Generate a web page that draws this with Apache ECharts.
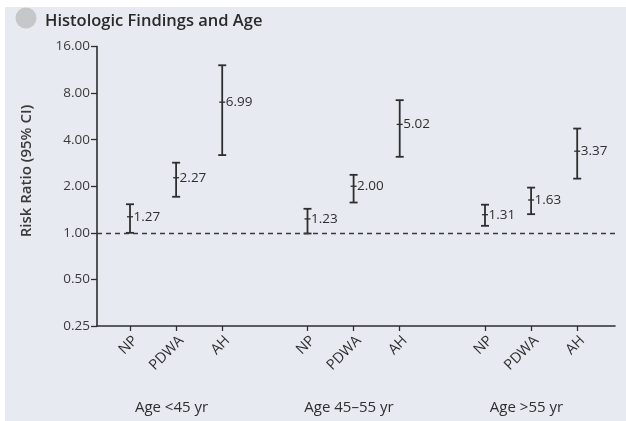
<!DOCTYPE html>
<html><head><meta charset="utf-8">
<script src="https://cdn.jsdelivr.net/npm/echarts@6/dist/echarts.min.js"></script>
<style>html,body{margin:0;padding:0;background:#fff}#c{width:626px;height:421px}</style>
</head><body><div id="c"></div>
<script>
const categories = ['NP', 'PDWA', 'AH'];
const groups = ['Age <45 yr', 'Age 45\u201355 yr', 'Age >55 yr'];
const estimates = [1.27, 2.27, 6.99, 1.23, 2.00, 5.02, 1.31, 1.63, 3.37];
const lower = [1.00, 1.71, 3.18, 0.99, 1.57, 3.10, 1.11, 1.32, 2.24];
const upper = [1.53, 2.84, 12.1, 1.43, 2.37, 7.20, 1.52, 1.96, 4.72];
const yTicks = [0.25, 0.5, 1, 2, 4, 8, 16];
const estLabels = ['1.27', '2.27', '6.99', '1.23', '2.00', '5.02', '1.31', '1.63', '3.37'];

const GAP = 3.85; // spacing between group starts on the x scale
const xPos = [], tickLabelMap = {};
groups.forEach((g, gi) => categories.forEach((c, ci) => {
  const p = +(gi * GAP + ci).toFixed(3);
  xPos.push(p); tickLabelMap[p] = c;
}));
const groupPos = groups.map((g, gi) => +(gi * GAP + 0.9).toFixed(3));
const groupLabelMap = {}; groupPos.forEach((p, i) => groupLabelMap[p] = groups[i]);

const data = estimates.map((e, i) => [xPos[i], e, lower[i], upper[i], i]);
const ink = '#2e2e2e';
const font = '"Open Sans", "Noto Sans", sans-serif';

const chart = echarts.init(document.getElementById('c'), null, {renderer: 'canvas'});
chart.setOption({
  backgroundColor: '#fff',
  animation: false,
  graphic: [
    {type: 'rect', z: -100, shape: {x: 5, y: 7, width: 621, height: 414}, style: {fill: '#e7eaf1'}},
    {type: 'circle', z: -90, shape: {cx: 26, cy: 18, r: 10.5}, style: {fill: '#c6c7c9'}},
    {type: 'text', left: 45, top: 13, style: {text: 'Histologic Findings and Age', font: '600 16.5px ' + font, fill: '#2a2a2a'}},
    {type: 'text', x: 27, y: 171, rotation: Math.PI / 2,
      style: {text: 'Risk Ratio (95% CI)', font: '600 15px ' + font, fill: '#3a3a3a', align: 'center', verticalAlign: 'middle'}}
  ],
  grid: {left: 97, right: 11, top: 46.5, bottom: 95, containLabel: false},
  xAxis: [{
    type: 'value', min: -0.716, max: 10.52,
    splitLine: {show: false},
    axisLine: {show: true, onZero: false, lineStyle: {color: ink, width: 1.6}},
    axisTick: {show: true, length: 5, customValues: xPos, lineStyle: {color: ink, width: 1.3}},
    axisLabel: {customValues: xPos, rotate: 45, margin: 7, color: ink, fontSize: 14.5, fontFamily: font,
      verticalAlign: 'top',
      formatter: v => tickLabelMap[+v.toFixed(3)] || ''}
  }, {
    type: 'value', min: -0.716, max: 10.52, position: 'bottom', offset: 68,
    splitLine: {show: false}, axisLine: {show: false, onZero: false}, axisTick: {show: false},
    axisLabel: {customValues: groupPos, margin: 6, color: ink, fontSize: 15, fontFamily: font,
      formatter: v => groupLabelMap[+v.toFixed(3)] || ''}
  }],
  yAxis: {
    type: 'log', logBase: 2, min: 0.25, max: 16,
    splitLine: {show: false},
    axisLine: {show: true, onZero: false, lineStyle: {color: ink, width: 1.6}},
    axisTick: {show: true, length: 6, customValues: yTicks, lineStyle: {color: ink, width: 1.3}},
    axisLabel: {customValues: yTicks, margin: 7, color: '#3a3a3a', fontSize: 13.5, fontFamily: font,
      formatter: v => Number(v).toFixed(2)}
  },
  series: [{
    type: 'custom',
    xAxisIndex: 0,
    data: data,
    renderItem: (params, api) => {
      const x = api.value(0);
      const top = api.coord([x, api.value(3)]);
      const bot = api.coord([x, api.value(2)]);
      const mid = api.coord([x, api.value(1)]);
      const w = 4;
      const ls = {stroke: ink, lineWidth: 1.8};
      return {type: 'group', children: [
        {type: 'line', shape: {x1: top[0], y1: top[1], x2: bot[0], y2: bot[1]}, style: ls},
        {type: 'line', shape: {x1: top[0] - w, y1: top[1], x2: top[0] + w, y2: top[1]}, style: ls},
        {type: 'line', shape: {x1: bot[0] - w, y1: bot[1], x2: bot[0] + w, y2: bot[1]}, style: ls},
        {type: 'line', shape: {x1: mid[0] - 3, y1: mid[1], x2: mid[0] + 3, y2: mid[1]}, style: {stroke: ink, lineWidth: 1.3}},
        {type: 'text', x: mid[0] + 3.5, y: mid[1], style: {text: estLabels[api.value(4)], fill: ink,
          font: '13.5px ' + font, verticalAlign: 'middle', align: 'left'}}
      ]};
    },
    markLine: {
      silent: true, symbol: 'none', label: {show: false},
      lineStyle: {color: '#3a3a3a', type: [5, 4], width: 1.3},
      data: [{yAxis: 1}]
    }
  }]
});
</script></body></html>
